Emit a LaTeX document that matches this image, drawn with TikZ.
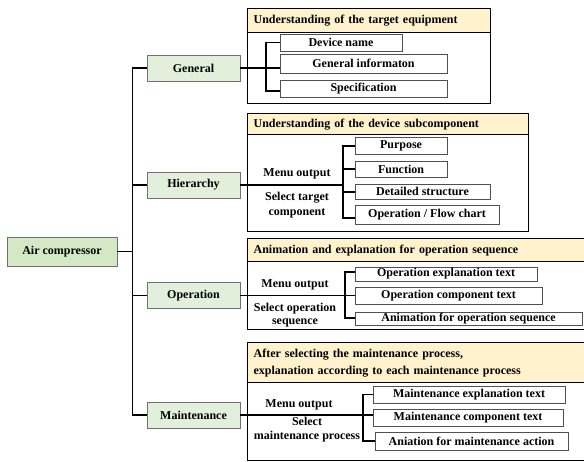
\documentclass[tikz,border=0pt]{standalone}
\usepackage{fontspec}
\setmainfont{Liberation Serif}
\definecolor{hdr}{HTML}{FFF2CC}
\definecolor{grn}{HTML}{E2EFDA}
\definecolor{grnroot}{HTML}{D5E8C6}
\definecolor{bgray}{HTML}{707070}
\definecolor{sgray}{HTML}{505050}
\begin{document}
\begin{tikzpicture}[x=1pt,y=-1pt,
  font=\fontsize{12}{14}\selectfont\bfseries,
  gbox/.style={draw=bgray, line width=0.9pt, fill=grn, inner sep=0pt, minimum width=93pt, minimum height=26pt},
  rootbox/.style={gbox, fill=grnroot, minimum width=110pt, minimum height=29pt},
  outerbox/.style={draw=black, line width=1.3pt, anchor=north west, inner sep=0pt},
  hdrbox/.style={draw=black, line width=1.3pt, fill=hdr, anchor=north west, inner xsep=6pt, inner ysep=0pt, align=left},
  sbox/.style={draw=sgray, line width=0.8pt, fill=white, inner sep=0pt},
  conn/.style={line width=1.4pt, black},
  lbl/.style={inner sep=0pt, align=center}
]
\useasboundingbox (0,0) rectangle (584,462);
\clip (0,0) rectangle (584,462);

% ---------- outer group boxes ----------
\node[outerbox, minimum width=243pt, minimum height=95pt] (o1) at (247,8) {};
\node[outerbox, minimum width=281pt, minimum height=118pt] (o2) at (247,113) {};
\node[outerbox, minimum width=340pt, minimum height=91pt] (o3) at (247,238) {};
\node[outerbox, minimum width=340pt, minimum height=118pt] (o4) at (247,342) {};

\node[hdrbox, text width=231pt, minimum height=24pt] (h1) at (247,8) {Understanding of the target equipment};
\node[hdrbox, text width=269pt, minimum height=21pt] (h2) at (247,113) {Understanding of the device subcomponent};
\node[hdrbox, text width=328pt, minimum height=23pt] (h3) at (247,238) {Animation and explanation for operation sequence};
\node[hdrbox, text width=328pt, minimum height=40pt, font=\fontsize{12}{17}\selectfont\bfseries] (h4) at (247,342) {After selecting the maintenance process,\\explanation according to each maintenance process};

% ---------- tree ----------
\node[rootbox] (root) at (62,251.5) {Air compressor};
\node[gbox] (gen) at (193.5,68) {General};
\node[gbox] (hie) at (193.5,185) {Hierarchy};
\node[gbox] (op) at (193.5,295.5) {Operation};
\node[gbox] (mnt) at (193.5,415) {Maintenance};

\draw[conn] (gen.west) -- ++(-14,0) |- (mnt.west);
\draw[conn] (hie.west) -- ++(-14,0);
\draw[conn] (op.west) -- ++(-14,0);
\draw[conn] (root.east) -- ++(16,0);

% ---------- group 1 ----------
\coordinate (b1) at (266,0);
\draw[conn] (gen.east) -- (363,68);
\draw[conn] (341,42.5) -| (b1 |- 0,91) -- (363,91);

\node[sbox, minimum width=122pt, minimum height=17pt] (dn) at (341,42.5) {Device name};
\node[sbox, minimum width=167pt, minimum height=19pt] (gi) at (363.5,63.5) {General informaton};
\node[sbox, minimum width=167pt, minimum height=17pt] (sp) at (363.5,88.5) {Specification};

% ---------- group 2 ----------
\node[lbl] (mo2) at (297,174) {Menu output};
\node[lbl, font=\fontsize{12}{15}\selectfont\bfseries] (st2) at (297,205) {Select target\\component};
\draw[conn] (hie.east) -- (343,185);
\draw[conn] (400,146) -| (343,218) -- (420,218);
\draw[conn] (343,169) -- (400,169);
\draw[conn] (343,192) -- (400,192);

\node[sbox, minimum width=92pt, minimum height=17pt] (pu) at (401,145.5) {Purpose};
\node[sbox, minimum width=92pt, minimum height=16pt] (fu) at (401,169) {Function};
\node[sbox, minimum width=135pt, minimum height=15pt] (ds) at (422.5,191.5) {Detailed structure};
\node[sbox, minimum width=144pt, minimum height=19pt] (of) at (427,214.5) {Operation / Flow chart};

% ---------- group 3 ----------
\node[lbl] (mo3) at (295,285) {Menu output};
\node[lbl, font=\fontsize{12}{13}\selectfont\bfseries] (so3) at (295,315) {Select operation\\sequence};
\draw[conn] (op.east) -- (400,295.5);
\draw[conn] (400,272) -| (345,318) -- (420,318);

\node[sbox, minimum width=182pt, minimum height=14pt] (oe) at (446,274) {Operation explanation text};
\node[sbox, minimum width=187pt, minimum height=17pt] (oc) at (448.5,295.5) {Operation component text};
\node[sbox, minimum width=227pt, minimum height=13pt] (an) at (468.5,318.5) {Animation for operation sequence};

% ---------- group 4 ----------
\node[lbl] (mo4) at (299,405) {Menu output};
\node[lbl, font=\fontsize{12}{14}\selectfont\bfseries] (sm4) at (307,430) {Select\\maintenance process};
\draw[conn] (mnt.east) -- (420,415);
\draw[conn] (420,394.5) -| (363,441) -- (420,441);

\node[sbox, minimum width=192pt, minimum height=17pt] (me) at (469,394.5) {Maintenance explanation text};
\node[sbox, minimum width=190pt, minimum height=17pt] (mc) at (468,417.5) {Maintenance component text};
\node[sbox, minimum width=193pt, minimum height=18pt] (ma) at (471.5,441) {Aniation for maintenance action};
\end{tikzpicture}
\end{document}
